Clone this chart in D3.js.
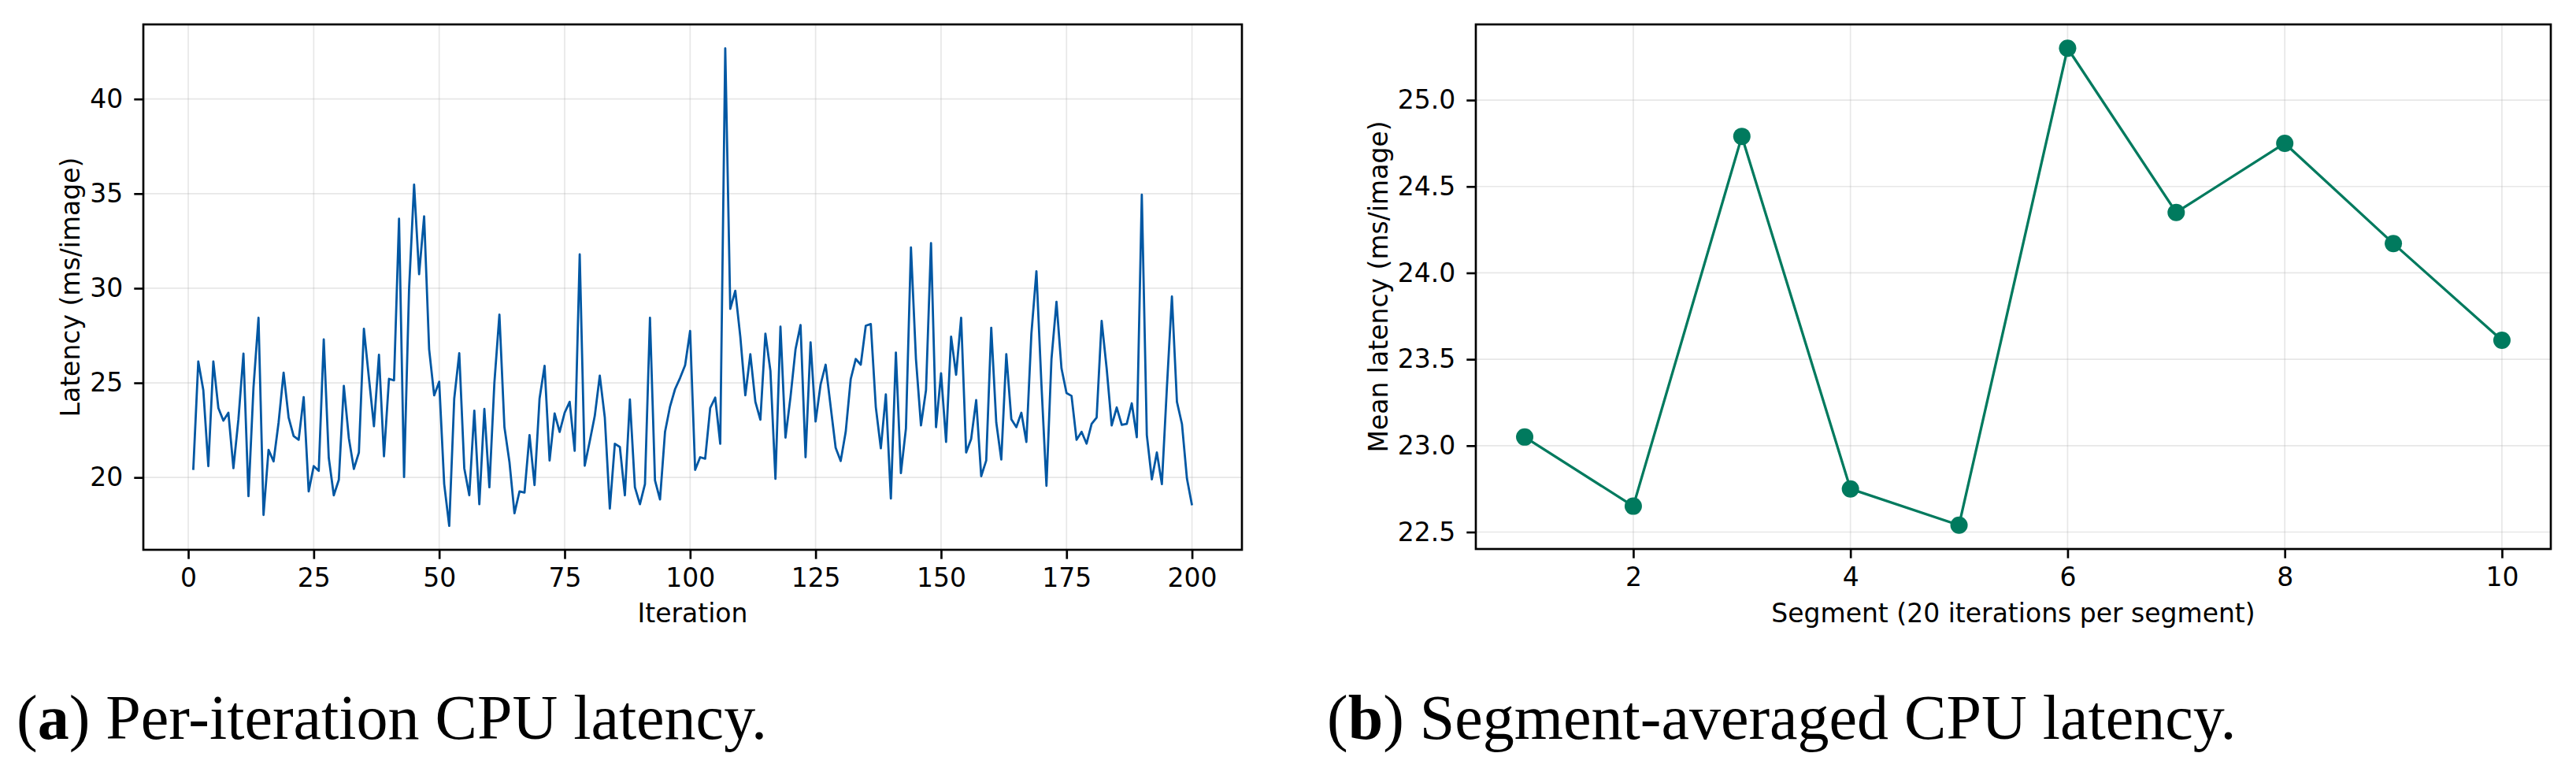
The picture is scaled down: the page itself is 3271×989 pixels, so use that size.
<!DOCTYPE html>
<html>
<head>
<meta charset="utf-8">
<script src="https://cdn.jsdelivr.net/npm/d3@7"></script>
<style>
	body { margin: 0; background: #fff; }
	svg { display: block; }
	.tick text { font-family: "DejaVu Sans", sans-serif; }
</style>
</head>
<body>
<svg id="fig"></svg>
<script>
// per-iteration latency (ms/image), iterations 1..200
var latency = [
	20.40, 26.13, 24.62, 20.60, 26.13, 23.67, 23.00, 23.42, 20.49, 23.08,
	26.55, 19.01, 24.76, 28.44, 18.02, 21.46, 20.85, 22.90, 25.54, 23.17,
	22.19, 21.99, 24.25, 19.26, 20.60, 20.35, 27.30, 21.04, 19.06, 19.87,
	24.84, 22.08, 20.45, 21.32, 27.86, 25.26, 22.71, 26.48, 21.12, 25.21,
	25.13, 33.67, 20.02, 29.95, 35.48, 30.74, 33.80, 26.77, 24.34, 25.06,
	19.65, 17.44, 24.17, 26.57, 20.49, 19.06, 23.53, 18.59, 23.62, 19.48,
	25.01, 28.61, 22.66, 20.82, 18.11, 19.26, 19.20, 22.24, 19.60, 24.17,
	25.90, 20.90, 23.38, 22.41, 23.42, 24.00, 21.41, 31.79, 20.62, 21.91,
	23.25, 25.38, 23.17, 18.36, 21.78, 21.61, 19.06, 24.12, 19.48, 18.59,
	19.65, 28.44, 19.85, 18.84, 22.41, 23.75, 24.67, 25.26, 25.93, 27.74,
	20.40, 21.07, 20.99, 23.67, 24.22, 21.78, 42.68, 28.91, 29.87, 27.44,
	24.34, 26.52, 24.00, 23.05, 27.60, 25.63, 19.93, 27.97, 22.11, 24.25,
	26.77, 28.06, 21.07, 27.14, 22.96, 24.92, 25.96, 23.75, 21.57, 20.87,
	22.41, 25.20, 26.26, 25.96, 28.02, 28.11, 23.72, 21.54, 24.39, 18.89,
	26.60, 20.23, 22.58, 32.16, 26.26, 22.75, 24.62, 32.38, 22.66, 25.51,
	21.88, 27.44, 25.43, 28.44, 21.32, 22.04, 24.09, 20.07, 20.90, 27.91,
	22.91, 20.95, 26.52, 23.08, 22.66, 23.42, 21.88, 27.60, 30.90, 24.92,
	19.56, 26.26, 29.28, 25.76, 24.46, 24.31, 21.99, 22.41, 21.79, 22.83,
	23.17, 28.27, 25.76, 22.75, 23.70, 22.78, 22.83, 23.92, 22.13, 34.94,
	22.24, 19.90, 21.32, 19.65, 24.76, 29.56, 24.00, 22.83, 19.93, 18.53
];

// mean latency per segment of 20 iterations
var segments = [1, 2, 3, 4, 5, 6, 7, 8, 9, 10];
var segMean = [23.05, 22.65, 24.79, 22.75, 22.54, 25.30, 24.35, 24.75, 24.17, 23.61];

var iterTicks = [0, 25, 50, 75, 100, 125, 150, 175, 200];
var latTicks = [20, 25, 30, 35, 40];
var segTicks = [2, 4, 6, 8, 10];
var meanTicks = [22.5, 23.0, 23.5, 24.0, 24.5, 25.0];

var W = 3271, H = 989;
var fs = 33;		// 10pt at the figure dpi
var lw = 2.67;		// 0.8pt

var svg = d3.select("#fig").attr("width", W).attr("height", H);
svg.append("rect").attr("width", W).attr("height", H).attr("fill", "#fff");

// matplotlib style 5% padding around the data
function padded(lo, hi){
	var m = (hi - lo) * 0.05;
	return [lo - m, hi + m];
}

function drawPanel(box, xs, ys, xTicks, yTicks, yFmt, xLabel, yLabel, yLabelX){
	var x = d3.scaleLinear().domain(padded(d3.min(xs), d3.max(xs))).range([box.l, box.r]);
	var y = d3.scaleLinear().domain(padded(d3.min(ys), d3.max(ys))).range([box.b, box.t]);
	var g = svg.append("g");

	// grid
	g.selectAll(".gx").data(xTicks).enter().append("line")
	.attr("x1", function(d){ return x(d); }).attr("x2", function(d){ return x(d); })
	.attr("y1", box.t).attr("y2", box.b)
	.style("stroke", "#b0b0b0").style("stroke-opacity", 0.3).style("stroke-width", 1.7);
	g.selectAll(".gy").data(yTicks).enter().append("line")
	.attr("y1", function(d){ return y(d); }).attr("y2", function(d){ return y(d); })
	.attr("x1", box.l).attr("x2", box.r)
	.style("stroke", "#b0b0b0").style("stroke-opacity", 0.3).style("stroke-width", 1.7);

	// axes
	var xa = g.append("g").attr("transform", "translate(0," + box.b + ")")
	.call(d3.axisBottom(x).tickValues(xTicks).tickSize(11.7).tickPadding(12).tickFormat(d3.format("d")));
	var ya = g.append("g").attr("transform", "translate(" + box.l + ",0)")
	.call(d3.axisLeft(y).tickValues(yTicks).tickSize(11.7).tickPadding(14).tickFormat(d3.format(yFmt)));
	[xa, ya].forEach(function(a){
		a.select(".domain").remove();
		a.selectAll(".tick line").style("stroke", "#000").style("stroke-width", lw);
		a.selectAll(".tick text").style("font-size", fs + "px").style("fill", "#000");
	});

	// frame
	g.append("rect")
	.attr("x", box.l).attr("y", box.t)
	.attr("width", box.r - box.l).attr("height", box.b - box.t)
	.style("fill", "none").style("stroke", "#000").style("stroke-width", lw);

	g.append("text")
	.attr("x", (box.l + box.r) / 2).attr("y", 790)
	.attr("text-anchor", "middle")
	.style("font-family", "DejaVu Sans").style("font-size", fs + "px")
	.text(xLabel);

	g.append("text")
	.attr("transform", "translate(" + yLabelX + "," + ((box.t + box.b) / 2) + ") rotate(-90)")
	.attr("text-anchor", "middle").attr("dy", "0.35em")
	.style("font-family", "DejaVu Sans").style("font-size", fs + "px")
	.text(yLabel);

	return {x: x, y: y, g: g};
}

// (a) per iteration
var iters = latency.map(function(d, i){ return i + 1; });
var pa = drawPanel({l: 182, r: 1577, t: 31, b: 698}, iters, latency,
	iterTicks, latTicks, "d", "Iteration", "Latency (ms/image)", 89);

pa.g.append("path")
.datum(latency)
.attr("d", d3.line()
	.x(function(d, i){ return pa.x(i + 1); })
	.y(function(d){ return pa.y(d); }))
.style("fill", "none")
.style("stroke", "#0057a3")
.style("stroke-width", 2.8)
.style("stroke-linejoin", "round");

// (b) per segment
var pb = drawPanel({l: 1874, r: 3239, t: 31, b: 697}, segments, segMean,
	segTicks, meanTicks, ".1f", "Segment (20 iterations per segment)", "Mean latency (ms/image)", 1750);

pb.g.append("path")
.datum(segMean)
.attr("d", d3.line()
	.x(function(d, i){ return pb.x(segments[i]); })
	.y(function(d){ return pb.y(d); }))
.style("fill", "none")
.style("stroke", "#007a5e")
.style("stroke-width", 3.3)
.style("stroke-linejoin", "round");

pb.g.selectAll(".dot").data(segMean).enter().append("circle")
.attr("cx", function(d, i){ return pb.x(segments[i]); })
.attr("cy", function(d){ return pb.y(d); })
.attr("r", 11)
.style("fill", "#007a5e");

// captions
function caption(x, letter, rest){
	var t = svg.append("text")
	.attr("x", x).attr("y", 938)
	.style("font-family", "'Liberation Serif', serif")
	.style("font-size", "80px");
	t.append("tspan").text("(");
	t.append("tspan").style("font-weight", "bold").text(letter);
	t.append("tspan").text(rest);
}
caption(21, "a", ") Per-iteration CPU latency.");
caption(1685, "b", ") Segment-averaged CPU latency.");
</script>
</body>
</html>
